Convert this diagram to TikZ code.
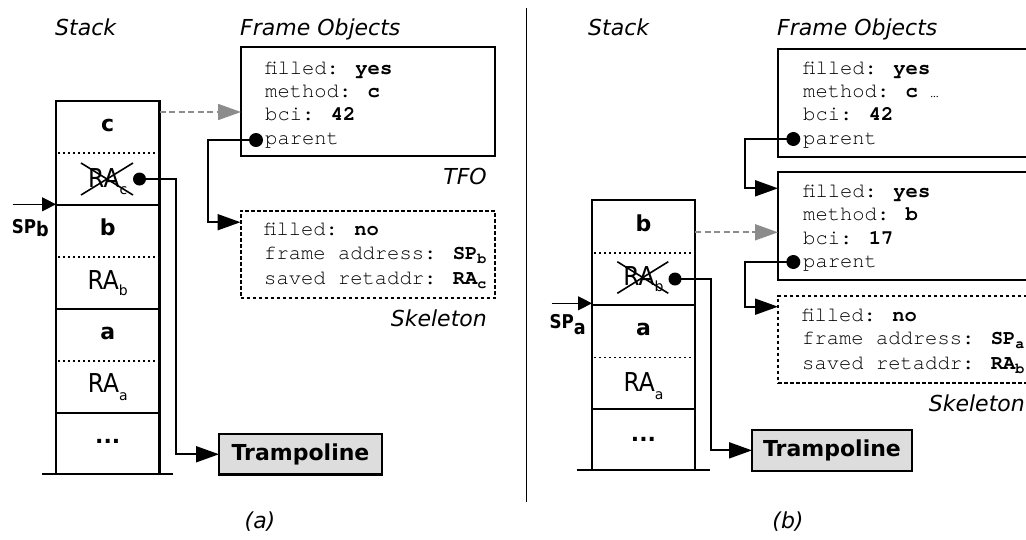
\documentclass[tikz,border=0pt]{standalone}
\usepackage{fontspec}
\usepackage{graphicx}
\setmainfont{DejaVu Sans}
\newfontfamily\monof{TeX Gyre Cursor}
\usetikzlibrary{arrows.meta}
\definecolor{arrgray}{RGB}{140,140,140}
\definecolor{trfill}{RGB}{221,221,221}
\newcommand\msub[1]{\raisebox{-4pt}{\fontsize{15}{15}\selectfont #1}}
\newcommand\rasub[2][7pt]{\scalebox{0.9}[1]{RA}\raisebox{-#1}{\fontsize{14}{14}\selectfont #2}}
\newcommand\splab[2]{\scalebox{0.88}[1]{\fontsize{19}{22}\selectfont\bfseries SP\raisebox{-#2}{\fontsize{20}{22}\selectfont #1}}}
\tikzset{
  lbl/.style={font=\fontsize{22}{26}\selectfont\itshape, inner sep=0pt, anchor=base west},
  lblr/.style={font=\fontsize{22}{26}\selectfont\itshape, inner sep=0pt, anchor=base east},
  lblc/.style={font=\fontsize{22}{26}\selectfont\itshape, inner sep=0pt, anchor=base},
  cellt/.style={font=\fontsize{22}{26}\selectfont\bfseries, inner sep=0pt, anchor=base},
  rat/.style={font=\fontsize{26}{30}\selectfont, inner sep=0pt, anchor=base},
  mono/.style={font=\monof\fontsize{20.5}{24}\selectfont, inner sep=0pt, anchor=base west},
  region/.style={inner sep=0pt, outer sep=0pt, anchor=north west},
  fobox/.style={region, draw, line width=2.1pt},
  skbox/.style={region, draw, line width=2pt, dash pattern=on 3.5pt off 2.5pt},
  trbox/.style={region, draw, line width=2.1pt, fill=trfill, font=\fontsize{22}{26}\selectfont\bfseries},
  stk/.style={line width=2.1pt},
  dotsep/.style={line width=1.8pt, dash pattern=on 1.8pt off 3.2pt},
  conn/.style={line width=1.9pt, -{Triangle[length=23pt,width=16pt]}},
  grayarr/.style={line width=1.7pt, arrgray, dash pattern=on 6pt off 3.5pt, -{Triangle[length=23pt,width=16pt]}},
  sparr/.style={line width=1.3pt, -{Triangle[length=14pt,width=14pt]}},
  pdot/.style={circle, fill, inner sep=0pt, minimum size=14pt},
  cross/.style={line width=1.6pt}
}
\begin{document}
\begin{tikzpicture}[x=1pt,y=-1pt]
\useasboundingbox (0,0) rectangle (1026,539);
\clip (0,0) rectangle (1026,539);

% ================= panel (a) =================
\node[lbl] (stackA) at (55,35) {Stack};
\node[lbl] (frameA) at (240,35) {Frame Objects};

% stack
\node[region, minimum width=103.5pt, minimum height=373pt] (stkA) at (56,101) {};
\draw[stk] (56,474) -- (56,101) -- (159.5,101) -- (159.5,474);
\draw[stk] (56,205) -- (159.5,205) (56,309) -- (159.5,309) (56,413) -- (159.5,413);
\draw[stk] (42,474) -- (173,474);
\draw[dotsep] (58,153) -- (158,153) (58,257) -- (158,257) (58,361) -- (158,361);
\node[cellt] (cA) at (107.75,131) {c};
\node[rat] (racA) at (107.75,187) {\rasub{c}};
\draw[cross] (81,163) -- (133,195) (81,195) -- (133,163);
\node[cellt] (bA) at (107.75,235) {b};
\node[rat] (rabA) at (107.75,289) {\rasub[6pt]{b}};
\node[cellt] (aA) at (107.75,339) {a};
\node[rat] (raaA) at (107.75,392) {\rasub[8pt]{a}};
\node[cellt] (etcA) at (107.75,443.3) {...};

% SP_b
\coordinate (spA) at (12.7,204.3);
\draw[sparr] (spA) -- (spA -| stkA.west);
\node[inner sep=0pt, anchor=base west] (splA) at (11.7,233.3) {\splab{b}{3.5pt}};

% TFO
\node[fobox, minimum width=254pt, minimum height=109pt] (tfoA) at (241,47) {};
\node[mono] (tA1) at (265,74) {filled: \textbf{yes}};
\node[mono] (tA2) at (265,97.3) {method: \textbf{c}};
\node[mono] (tA3) at (265,120.7) {bci: \textbf{42}};
\node[mono] (tA4) at (265,144) {parent};
\node[lblr] (tfoLA) at (487,184.3) {TFO};

% Skeleton
\node[skbox, minimum width=254.5pt, minimum height=87.3pt] (skA) at (240.5,210.7) {};
\node[mono] (sA1) at (264,235.7) {filled: \textbf{no}};
\node[mono] (sA2) at (264,259.4) {frame address: \textbf{SP\msub{b}}};
\node[mono] (sA3) at (264,284) {saved retaddr: \textbf{RA\msub{c}}};
\node[lblr] (skLA) at (487,326) {Skeleton};

% Trampoline
\node[trbox, minimum width=163pt, minimum height=40.5pt] (trA) at (219,434) {Trampoline};

% connectors
\coordinate (gA) at (159.5,112);
\draw[grayarr] (gA) -- (gA -| tfoA.west);
\node[pdot] (pdA) at (256,140) {};
\coordinate (kA) at (208,180);
\draw[conn] (pdA.center) -| (kA) |- ([yshift=-11.5pt]skA.north west);
\node[pdot, minimum size=13pt] (rdA) at (139.5,179) {};
\coordinate (jA) at (176,300);
\draw[conn] (rdA.center) -| (jA) |- (trA.west);

\node[lblc] (capA) at (260,528) {(a)};

% separator
\draw[line width=1.2pt] (526.5,8) -- (526.5,502);

% ================= panel (b) =================
\node[lbl] (stackB) at (588,35) {Stack};
\node[lbl] (frameB) at (777,35) {Frame Objects};

% stack
\node[region, minimum width=103pt, minimum height=270pt] (stkB) at (592,200) {};
\draw[stk] (592,470) -- (592,200) -- (695,200) -- (695,470);
\draw[stk] (592,304.8) -- (695,304.8) (592,409.3) -- (695,409.3);
\draw[stk] (576.7,470) -- (710,470);
\draw[dotsep] (594,253.3) -- (694,253.3) (594,357.5) -- (694,357.5);
\node[cellt] (bB) at (643.5,231) {b};
\node[rat] (rabB) at (643.5,285) {\rasub[6pt]{b}};
\draw[cross] (617.3,261.7) -- (668.3,293.3) (617.3,293.3) -- (668.3,261.7);
\node[cellt] (aB) at (643.5,335.5) {a};
\node[rat] (raaB) at (643.5,391.7) {\rasub[8pt]{a}};
\node[cellt] (etcB) at (643.5,441.7) {...};

% SP_a
\coordinate (spB) at (551.7,303.3);
\draw[sparr] (spB) -- (spB -| stkB.west);
\node[inner sep=0pt, anchor=base west] (splB) at (549.3,328.3) {\splab{a}{6.5pt}};

% frame object c
\node[fobox, minimum width=255pt, minimum height=108pt] (fcB) at (778,49) {};
\node[mono] (fB1) at (803,74) {filled: \textbf{yes}};
\node[mono] (fB2) at (803,97.3) {method: \textbf{c} {\fontsize{14}{14}\selectfont …}};
\node[mono] (fB3) at (803,120.7) {bci: \textbf{42}};
\node[mono] (fB4) at (803,144) {parent};

% frame object b
\node[fobox, minimum width=255pt, minimum height=107.7pt] (fbB) at (778,172.3) {};
\node[mono] (gB1) at (803,197.3) {filled: \textbf{yes}};
\node[mono] (gB2) at (803,220.6) {method: \textbf{b}};
\node[mono] (gB3) at (803,244) {bci: \textbf{17}};
\node[mono] (gB4) at (803,267.3) {parent};

% skeleton
\node[skbox, minimum width=255pt, minimum height=87.3pt] (skB) at (778,296) {};
\node[mono] (sB1) at (802,321) {filled: \textbf{no}};
\node[mono] (sB2) at (802,344.6) {frame address: \textbf{SP\msub{a}}};
\node[mono] (sB3) at (802,369.3) {saved retaddr: \textbf{RA\msub{b}}};
\node[lblr] (skLB) at (1025,411.5) {Skeleton};

% trampoline
\node[trbox, minimum width=160pt, minimum height=40.7pt] (trB) at (752,430) {Trampoline};

% connectors
\coordinate (gB) at (695,232.3);
\draw[grayarr] (gB) -- (gB -| fbB.west);
\node[pdot] (pd1B) at (793.3,139) {};
\coordinate (k1B) at (745,160);
\draw[conn] (pd1B.center) -| (k1B) |- ([yshift=-16pt]fbB.north west);
\node[pdot] (pd2B) at (793.3,262) {};
\coordinate (k2B) at (745,290);
\draw[conn] (pd2B.center) -| (k2B) |- ([yshift=-10.7pt]skB.north west);
\node[pdot, minimum size=13pt] (rdB) at (675,279) {};
\coordinate (jB) at (711,350);
\draw[conn] (rdB.center) -| (jB) |- (trB.west);

\node[lblc] (capB) at (788,528) {(b)};
\end{tikzpicture}
\end{document}
